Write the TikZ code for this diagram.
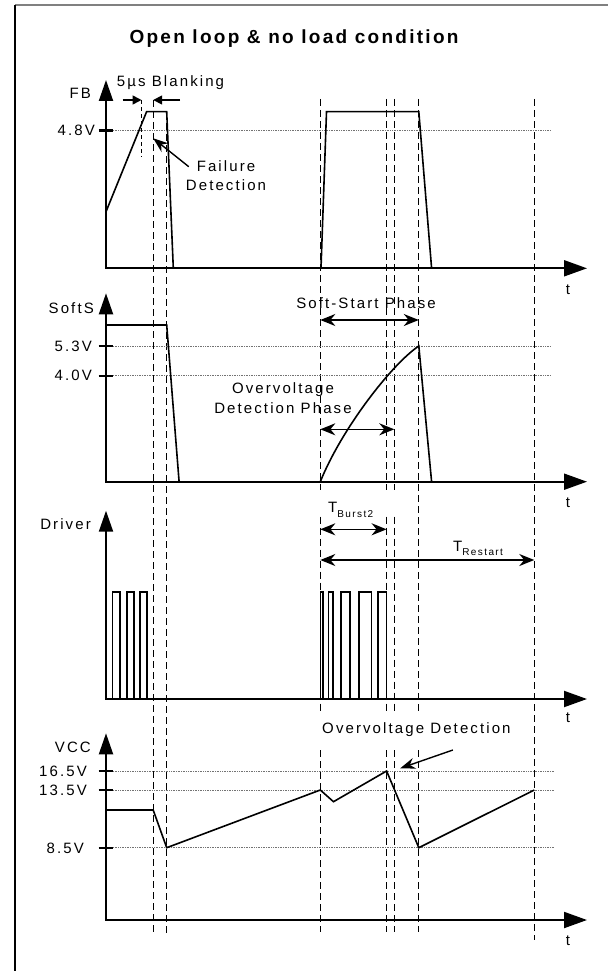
\documentclass[tikz,border=0pt]{standalone}
\usepackage{fontspec}
\setmainfont{Liberation Sans}
\newfontfamily\sigfont{Liberation Sans}[LetterSpace=14]
\newfontfamily\headfont{Liberation Sans}[LetterSpace=12]
\newcommand{\subsize}{\sigfont\fontsize{10}{12}\selectfont}
\usetikzlibrary{arrows.meta,calc}

\begin{document}
\begin{tikzpicture}[x=1pt, y=-1pt,
    axisLine/.style={line width=2pt, {Triangle[length=21pt,width=14pt]}-{Triangle[length=23pt,width=16pt]}},
    waveLine/.style={line width=1.6pt, line join=miter},
    markLine/.style={line width=0.8pt, dash pattern=on 7pt off 4pt},
    levelLine/.style={line width=0.7pt, densely dotted, black!55},
    tickLine/.style={line width=2pt},
    spanArrow/.style={line width=1.6pt, {Stealth[length=15pt,width=12pt]}-{Stealth[length=15pt,width=12pt]}},
    pointArrow/.style={line width=1.4pt, -{Stealth[length=15pt,width=11pt]}},
    blankArrow/.style={line width=1.6pt, -{Triangle[length=9pt,width=9pt]}},
    sigText/.style={font=\sigfont\fontsize{15}{19.3}\selectfont, inner sep=0pt, align=center}
]
    \useasboundingbox (0,0) rectangle (608,971);

    % Rahmen
    \draw[line width=1.5pt, black!50] (15,5) -- (608,5);
    \draw[line width=1.5pt] (15,5) -- (15,971);

    % Titel
    \node[inner sep=0pt, anchor=base, font=\headfont\bfseries\fontsize{19}{22}\selectfont] (title) at (294,44) {Open loop \& no load condition};

    % Zeitmarken (gestrichelt)
    \draw[line width=0.6pt, dash pattern=on 4pt off 3pt] (141.5,100) -- (141.5,156.7);
    \foreach \xm/\ya/\yb in {153.2/100/933, 166.7/112/933,
        320.3/99/490, 320.3/516.7/713, 320.3/750/931.7,
        386.6/99/490, 386.6/516.7/713, 386.6/750/931.7,
        394.3/99/490, 394.3/516.7/713, 394.3/750/931.7,
        418.8/99/713, 418.8/750/931.7, 534.3/99/940}
        \draw[markLine] (\xm,\ya) -- (\xm,\yb);

    % Achsen
    \foreach \yb/\yt in {268.3/80, 481.7/293.3, 699/510.7, 920/733.3}
        \draw[axisLine] (106,\yt) -- (106,\yb) -- (587,\yb);

    % Pegel
    \foreach \yl/\xe in {130.5/550, 346/551, 375.5/551, 771/554, 790/554, 847.7/554} {
        \draw[levelLine] (113,\yl) -- (\xe,\yl);
        \draw[tickLine] (98.5,\yl) -- (113,\yl);
    }

    % Achsbeschriftungen
    \node[sigText, anchor=base east] (fbLbl) at (91,99) {FB};
    \node[sigText, anchor=base east] (softLbl) at (94,313.6) {SoftS};
    \node[sigText, anchor=base east] (drvLbl) at (91,529.6) {Driver};
    \node[sigText, anchor=base east] (vccLbl) at (91,752) {VCC};
    \node[sigText, anchor=base east] (lvA) at (95,135.8) {4.8V};
    \node[sigText, anchor=base east] (lvB) at (92,351.3) {5.3V};
    \node[sigText, anchor=base east] (lvC) at (92,380.8) {4.0V};
    \node[sigText, anchor=base east] (lvD) at (87,776.3) {16.5V};
    \node[sigText, anchor=base east] (lvE) at (87,795.3) {13.5V};
    \node[sigText, anchor=base east] (lvF) at (84,853) {8.5V};
    \foreach \yt [count=\i] in {290, 502.7, 717.3, 940.7}
        \node[sigText] (tLbl\i) at (568,\yt) {t};

    % FB
    \draw[waveLine] (106,211.7) -- (146.6,111.7) -- (166.7,111.7) -- (173.3,268.3);
    \draw[waveLine] (321,268.3) -- (326.5,111.7) -- (418.8,111.7) -- (431.6,268.3);
    \node[sigText, anchor=base] (blankTxt) at (170.5,87) {5µs Blanking};
    \coordinate (blankL) at (141.5,100);
    \coordinate (blankR) at (153.2,100);
    \draw[blankArrow] ($(blankL)+(-19,0)$) -- (blankL);
    \draw[blankArrow] ($(blankR)+(27,0)$) -- (blankR);
    \node[sigText] (failTxt) at (226,175.5) {Failure\\Detection};
    \coordinate (failTip) at (153.2,138.3);
    \coordinate (failTail) at (188.8,166.7);
    \draw[pointArrow] (failTail) -- (failTip);

    % SoftS
    \draw[waveLine] (106,325) -- (166.7,325) -- (179.1,481.7);
    \draw[waveLine] (320.3,481.7) .. controls (342,428) and (392,364) .. (418.8,346) -- (431.6,481.7);
    \node[sigText, anchor=base] (ssTxt) at (366,308.6) {Soft-Start Phase};
    \coordinate (ssL) at (320.3,320);
    \coordinate (ssR) at (418.8,320);
    \draw[spanArrow] (ssL) -- (ssR);
    \node[sigText] (ovpTxt) at (283,398.2) {Overvoltage\\Detection Phase};
    \coordinate (ovpL) at (320.3,429.3);
    \coordinate (ovpR) at (394.3,429.3);
    \draw[spanArrow] (ovpL) -- (ovpR);

    % Driver
    \foreach \xa/\xb in {112.4/120.2, 126.8/133.8, 139.7/147.2,
        320.3/323, 328.4/332.7, 341.2/350.1, 358.7/371.5, 378/386.6}
        \draw[waveLine] (\xa,699) -- (\xa,591.7) -- (\xb,591.7) -- (\xb,699);
    \node[sigText, anchor=base west] (burstTxt) at (328,512) {T\raisebox{-5pt}{\subsize Burst2}};
    \coordinate (burstL) at (320.3,529.3);
    \coordinate (burstR) at (386.6,529.3);
    \draw[spanArrow] (burstL) -- (burstR);
    \node[sigText, anchor=base west] (restartTxt) at (453,551.4) {T\raisebox{-4pt}{\subsize Restart}};
    \coordinate (restartL) at (320.3,560);
    \coordinate (restartR) at (534.3,560);
    \draw[spanArrow] (restartL) -- (restartR);

    % VCC
    \draw[waveLine] (106,810) -- (153.2,810) -- (166.7,847.7) -- (320.3,790) -- (333.5,801.7)
        -- (386.6,771) -- (418.8,847.7) -- (534.3,790);
    \node[sigText, anchor=base] (ovdTxt) at (416.4,733.6) {Overvoltage Detection};
    \coordinate (ovdTip) at (400.2,768.3);
    \coordinate (ovdTail) at (452.9,750);
    \draw[pointArrow] (ovdTail) -- (ovdTip);
\end{tikzpicture}
\end{document}
